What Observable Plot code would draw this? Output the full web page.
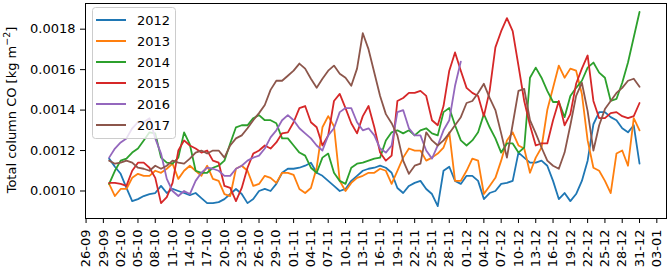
<!DOCTYPE html>
<html><head><meta charset="utf-8">
<script src="https://cdn.jsdelivr.net/npm/d3@7"></script>
<script src="https://cdn.jsdelivr.net/npm/@observablehq/plot@0.6"></script>
<style>
html,body{margin:0;padding:0;background:#fff;}
#wrap{width:668px;height:269px;}
</style></head><body><div id="wrap"></div>
<script>
const years = ["2012", "2013", "2014", "2015", "2016", "2017"];
const colors = ["#1f77b4", "#ff7f0e", "#2ca02c", "#d62728", "#9467bd", "#8c564b"];
const startDate = "2001-09-30"; // first daily value (day-month only matters)

const co2012 = [0.00116, 0.00112, 0.001085, 0.001015, 0.00095, 0.00096, 0.000975, 0.000985, 0.00099, 0.001025,
0.00099, 0.00101, 0.00100, 0.00099, 0.00098, 0.00099, 0.000965, 0.00094, 0.00094, 0.000945,
0.00096, 0.000985, 0.00101, 0.000985, 0.00094, 0.00096, 0.00100, 0.00101, 0.00100, 0.001035,
0.00109, 0.00111, 0.00111, 0.001115, 0.001125, 0.00114, 0.00109, 0.001075, 0.00105, 0.001025,
0.00100, 0.00101, 0.00105, 0.001075, 0.00110, 0.00111, 0.001115, 0.001125, 0.001115, 0.00109,
0.001015, 0.00099, 0.001025, 0.00104, 0.00105, 0.00101, 0.000985, 0.000925, 0.00110, 0.00112,
0.00105, 0.001035, 0.001075, 0.001075, 0.00105, 0.00096, 0.00099, 0.00100, 0.001035, 0.00104,
0.00105, 0.00119, 0.001165, 0.00114, 0.00114, 0.00115, 0.001125, 0.00105, 0.00096, 0.00099,
0.00095, 0.000985, 0.00105, 0.00115, 0.00133, 0.00139, 0.00139, 0.001365, 0.00135, 0.00131,
0.00129, 0.001325, 0.001135];

const co2013 = [0.001035, 0.000975, 0.00101, 0.00101, 0.001065, 0.001085, 0.001075, 0.001075, 0.00110, 0.00109,
0.00111, 0.001135, 0.00106, 0.00110, 0.001125, 0.00110, 0.001075, 0.001125, 0.00106, 0.00105,
0.000985, 0.000975, 0.00111, 0.001125, 0.00110, 0.001025, 0.001035, 0.001075, 0.001065, 0.00104,
0.00109, 0.00109, 0.00108, 0.00101, 0.00099, 0.001015, 0.001115, 0.001315, 0.00137, 0.00132,
0.00105, 0.00100, 0.00104, 0.001065, 0.001075, 0.00109, 0.00109, 0.00111, 0.00110, 0.001035,
0.00110, 0.001165, 0.00121, 0.00120, 0.00120, 0.00115, 0.001165, 0.001185, 0.001215, 0.00129,
0.00105, 0.00105, 0.00110, 0.00116, 0.00115, 0.000985, 0.001025, 0.001065, 0.00115, 0.00125,
0.00129, 0.001225, 0.00121, 0.00109, 0.001165, 0.001215, 0.00140, 0.00151, 0.00162, 0.00156,
0.001605, 0.001595, 0.00148, 0.00125, 0.001115, 0.00110, 0.00105, 0.00099, 0.001185, 0.00120,
0.001125, 0.00136, 0.00130];

const co2014 = [0.001035, 0.00110, 0.00115, 0.00116, 0.00119, 0.00121, 0.00125, 0.00129, 0.001285, 0.001165,
0.00114, 0.001135, 0.001165, 0.00129, 0.00123, 0.00110, 0.00109, 0.00109, 0.001115, 0.001125,
0.00115, 0.001235, 0.001315, 0.001325, 0.001325, 0.00136, 0.001375, 0.00135, 0.00135, 0.001335,
0.00126, 0.00126, 0.001225, 0.00119, 0.001175, 0.001115, 0.00109, 0.001165, 0.001185, 0.00109,
0.00105, 0.001035, 0.001115, 0.001135, 0.00114, 0.00115, 0.00116, 0.001165, 0.00125, 0.00129,
0.00130, 0.001285, 0.00130, 0.001275, 0.00130, 0.00131, 0.001285, 0.001275, 0.00139, 0.00141,
0.001325, 0.00125, 0.001225, 0.00125, 0.00129, 0.00138, 0.001315, 0.00126, 0.00119, 0.001235,
0.001235, 0.00119, 0.001215, 0.00156, 0.00161, 0.00156, 0.001495, 0.00144, 0.00144, 0.001365,
0.00147, 0.00151, 0.001545, 0.00161, 0.001635, 0.001585, 0.00156, 0.001445, 0.001455, 0.001535,
0.001635, 0.00176, 0.001885];

const co2015 = [0.00104, 0.00104, 0.001035, 0.001025, 0.00110, 0.00114, 0.00114, 0.001115, 0.001065, 0.00094,
0.00097, 0.00104, 0.00120, 0.00125, 0.001225, 0.00121, 0.00119, 0.00120, 0.00115, 0.00114,
0.001025, 0.001015, 0.00095, 0.001015, 0.001115, 0.001185, 0.00120, 0.001225, 0.00121, 0.00124,
0.001285, 0.00129, 0.00134, 0.00141, 0.00142, 0.00134, 0.001315, 0.001225, 0.001275, 0.001445,
0.00148, 0.00141, 0.001335, 0.001285, 0.00137, 0.00142, 0.001315, 0.00119, 0.00115, 0.001175,
0.001445, 0.00146, 0.001485, 0.001485, 0.001495, 0.00147, 0.00135, 0.001325, 0.00142, 0.001595,
0.001685, 0.001595, 0.00151, 0.001485, 0.00147, 0.00137, 0.001495, 0.00171, 0.00179, 0.001855,
0.00179, 0.00162, 0.001445, 0.001325, 0.001225, 0.001235, 0.001235, 0.00135, 0.001445, 0.001325,
0.00138, 0.00153, 0.001605, 0.00167, 0.001445, 0.00136, 0.00136, 0.001385, 0.00139, 0.00137,
0.00136, 0.00137, 0.001435];

const co2016 = [0.001165, 0.00121, 0.00124, 0.00126, 0.00131, 0.00134, 0.00134, 0.00136, 0.00126, 0.001185,
0.00106, 0.00100, 0.000975, 0.00100, 0.000985, 0.00105, 0.00109, 0.001115, 0.00111, 0.00110,
0.001075, 0.001075, 0.00111, 0.001125, 0.00115, 0.001165, 0.001175, 0.00121, 0.001265, 0.00130,
0.00135, 0.001375, 0.00135, 0.00131, 0.001285, 0.00126, 0.001225, 0.00120, 0.001275, 0.00131,
0.00139, 0.00141, 0.00141, 0.00134, 0.00130, 0.00131, 0.001275, 0.00121, 0.00119, 0.001225,
0.00139, 0.00140, 0.00131, 0.001275, 0.001275, 0.00120, 0.00116, 0.001225, 0.00130, 0.00135,
0.00152, 0.00164];

const co2017 = [0.00115, 0.001135, 0.00114, 0.00115, 0.00114, 0.001115, 0.00111, 0.00110, 0.001125, 0.00111,
0.001125, 0.00115, 0.00114, 0.001135, 0.00116, 0.00119, 0.00120, 0.001185, 0.00120, 0.00120,
0.001165, 0.001225, 0.00126, 0.001275, 0.00131, 0.00135, 0.001385, 0.001425, 0.00150, 0.001545,
0.001545, 0.00157, 0.001595, 0.00163, 0.001605, 0.001555, 0.00151, 0.001555, 0.001595, 0.00162,
0.00158, 0.00156, 0.00152, 0.001605, 0.00178, 0.00170, 0.001585, 0.00147, 0.00138, 0.001335,
0.001275, 0.00115, 0.001085, 0.001125, 0.001135, 0.00129, 0.00125, 0.001225, 0.00125, 0.001285,
0.001325, 0.001365, 0.001435, 0.001445, 0.001485, 0.00153, 0.00146, 0.00140, 0.001285, 0.001165,
0.00133, 0.001495, 0.001505, 0.00135, 0.001285, 0.001215, 0.00115, 0.001125, 0.00111, 0.00119,
0.001325, 0.00147, 0.001535, 0.001395, 0.00120, 0.001325, 0.001405, 0.001445, 0.001485, 0.00151,
0.001545, 0.001555, 0.001515];

const xTickLabels = ["26-09", "29-09", "02-10", "05-10", "08-10", "11-10", "14-10", "17-10", "20-10", "23-10",
"26-10", "29-10", "01-11", "04-11", "07-11", "10-11", "13-11", "16-11", "19-11", "22-11", "25-11", "28-11",
"01-12", "04-12", "07-12", "10-12", "13-12", "16-12", "19-12", "22-12", "25-12", "28-12", "31-12", "03-01"];
const yTicks = [0.0010, 0.0012, 0.0014, 0.0016, 0.0018];
const yLabel = "Total column CO [kg m";
const yLabelSup = "\u22122";

const DAY = 864e5;
function parseDM(s) {
  const [d, m] = s.split("-").map(Number);
  return new Date(Date.UTC(m < 9 ? 2002 : 2001, m - 1, d));
}
const xTicks = xTickLabels.map(parseDM);
const labelOf = new Map(xTicks.map((d, i) => [+d, xTickLabels[i]]));
const t0 = new Date(startDate + "T00:00:00Z");
const series = [co2012, co2013, co2014, co2015, co2016, co2017];
const rows = [];
series.forEach((arr, k) => arr.forEach((v, i) => rows.push({year: years[k], date: new Date(+t0 + i * DAY), value: v})));

const xStart = +xTicks[0];
const chart = Plot.plot({
  width: 668, height: 269,
  marginLeft: 85, marginRight: 2, marginTop: 3, marginBottom: 51,
  style: {fontFamily: "DejaVu Sans", fontSize: "13px", color: "black", background: "white", overflow: "visible"},
  x: {type: "utc", domain: [new Date(xStart - 0.1 * DAY), new Date(xStart + 100.68 * DAY)]},
  y: {domain: [0.000864, 0.001927]},
  color: {domain: years, range: colors},
  marks: [
    Plot.line(rows, {x: "date", y: "value", z: "year", stroke: "year", strokeWidth: 1.8, strokeLinejoin: "round"}),
    Plot.frame({stroke: "black", strokeWidth: 1}),
    Plot.axisY({ticks: yTicks, tickFormat: d3.format(".4f"), tickSize: 5, tickPadding: 5, label: null, fontSize: 13}),
    Plot.axisX({ticks: xTicks, tickFormat: d => labelOf.get(+d), tickRotate: -90, tickSize: 5, tickPadding: 6, label: null, fontSize: 13})
  ]
});
document.getElementById("wrap").appendChild(chart);

const svg = d3.select(chart);
// y axis title
const yt = svg.append("text")
  .attr("transform", "translate(11,110) rotate(-90)")
  .attr("text-anchor", "middle")
  .attr("dominant-baseline", "central")
  .attr("font-family", "DejaVu Sans")
  .attr("font-size", 13)
  .attr("fill", "black");
yt.append("tspan").text(yLabel);
yt.append("tspan").attr("dy", -5).attr("font-size", 9.5).text(yLabelSup);
yt.append("tspan").attr("dy", 5).text("]");

// legend
const lg = svg.append("g").attr("font-family", "DejaVu Sans").attr("font-size", 13).attr("text-anchor", "start");
lg.append("rect").attr("x", 92.5).attr("y", 7.5).attr("width", 83).attr("height", 131).attr("rx", 3)
  .attr("fill", "white").attr("fill-opacity", 0.8).attr("stroke", "#cccccc").attr("stroke-width", 1);
years.forEach((yr, i) => {
  const cy = 20 + i * 21;
  lg.append("line").attr("x1", 96).attr("x2", 126).attr("y1", cy).attr("y2", cy)
    .attr("stroke", colors[i]).attr("stroke-width", 2);
  lg.append("text").attr("x", 137).attr("y", cy).attr("text-anchor", "start")
    .attr("dominant-baseline", "central").attr("fill", "black").text(yr);
});
</script></body></html>
